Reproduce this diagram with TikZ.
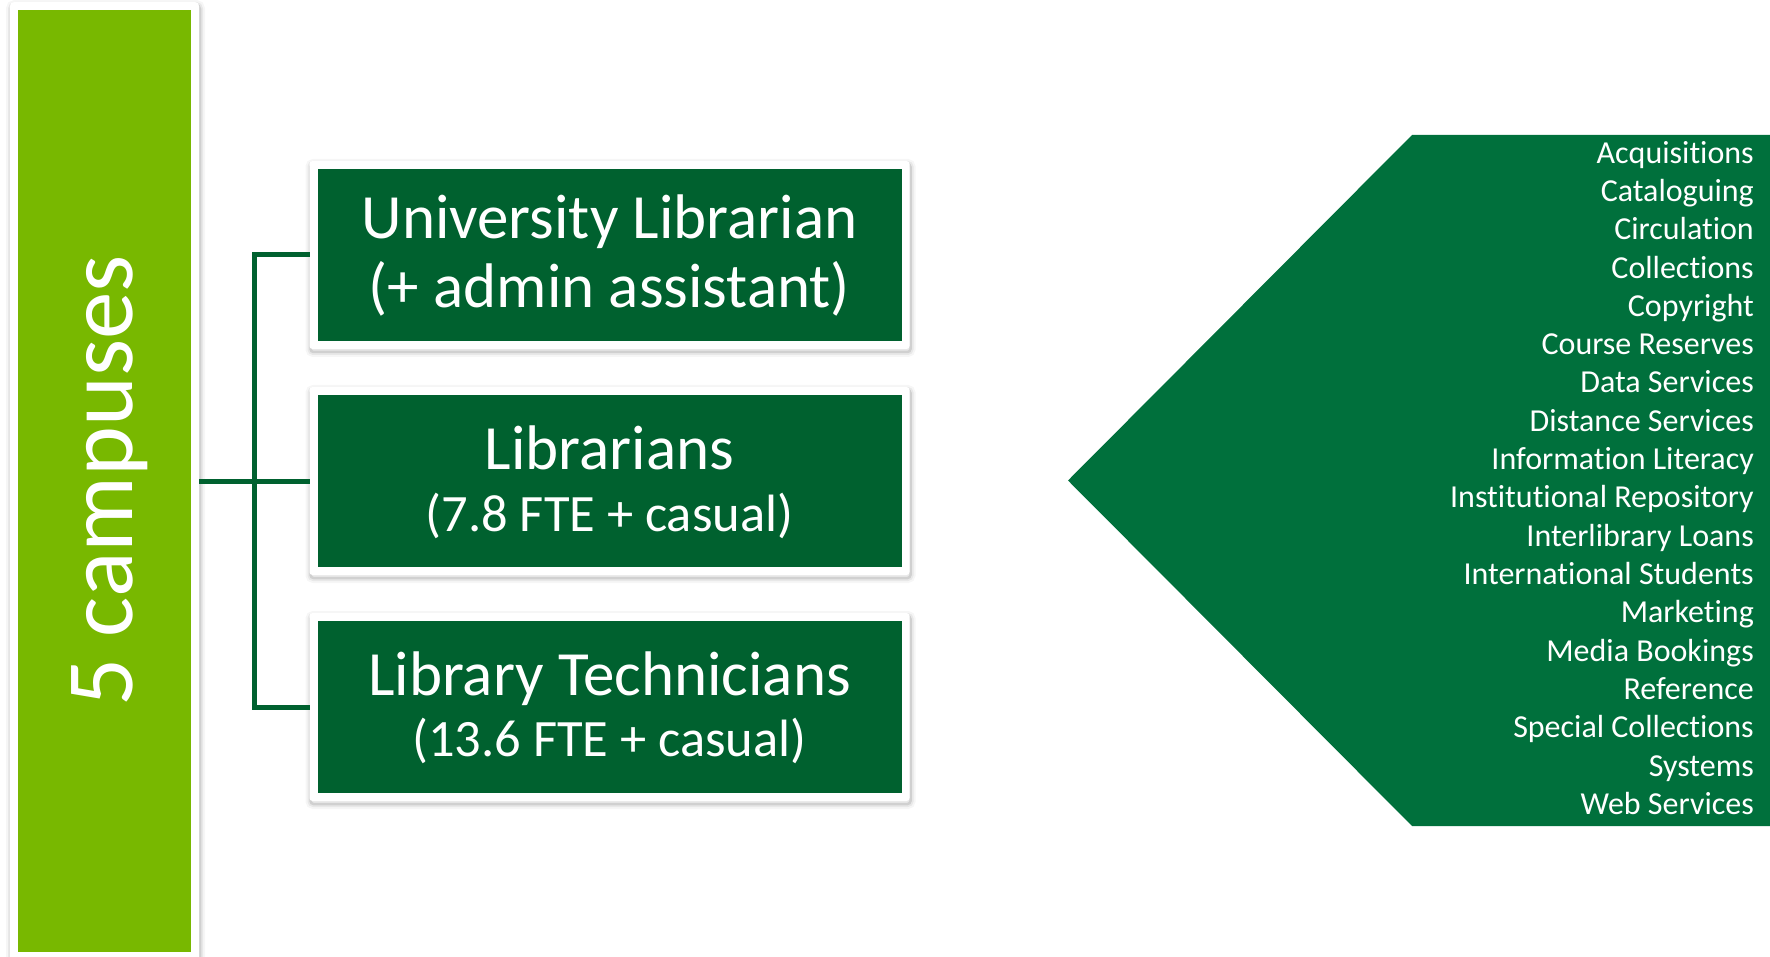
\documentclass[tikz,border=0pt]{standalone}
\usepackage{fontspec}
\setmainfont{Carlito}[Ligatures={NoCommon,NoContextual}]
\usetikzlibrary{calc}
\definecolor{limegreen}{HTML}{78B800}
\definecolor{boxgreen}{HTML}{00612F}
\definecolor{arrowgreen}{HTML}{00703C}
\begin{document}
\begin{tikzpicture}[x=1pt,y=-1pt,
  softshadow/.style={
    preaction={draw=black, draw opacity=0.035, line width=10pt, transform canvas={xshift=1pt,yshift=-3pt}},
    preaction={draw=black, draw opacity=0.06, line width=6pt, transform canvas={xshift=1pt,yshift=-3pt}},
    preaction={draw=black, draw opacity=0.10, line width=2.5pt, transform canvas={xshift=1pt,yshift=-3pt}}},
  frame/.style={fill=white, rounded corners=3pt, softshadow, inner sep=0pt, outer sep=0pt,
    minimum width=600pt, minimum height=188pt},
  greenbox/.style={fill=boxgreen, inner sep=0pt, outer sep=0pt,
    minimum width=584pt, minimum height=172pt},
  bigtxt/.style={text=white, inner sep=0pt, anchor=base, font=\fontsize{63}{63}\selectfont},
  smalltxt/.style={text=white, inner sep=0pt, anchor=base, font=\fontsize{52.5}{52.5}\selectfont},
  listtxt/.style={text=white, inner sep=0pt, anchor=base east, font=\fontsize{32}{32}\selectfont},
  conn/.style={draw=boxgreen, line width=5pt}]
\useasboundingbox (0,0) rectangle (1770,957);

% left bar
\node[fill=white, rounded corners=4pt, softshadow, inner sep=0pt, outer sep=0pt,
  minimum width=189pt, minimum height=962pt] (barframe) at (104.5,483) {};
\node[fill=limegreen, inner sep=0pt, outer sep=0pt, minimum width=173pt, minimum height=942pt] (bar) at (104.5,480.6) {};
\node[text=white, font=\fontsize{95}{95}\selectfont, rotate=90, anchor=base, inner sep=0pt] (camp) at (132,481) {5 campuses};

% boxes
\node[frame] (f1) at (609.5,255) {};
\node[greenbox] (b1) at (609.5,255) {};
\node[frame] (f2) at (609.5,481) {};
\node[greenbox] (b2) at (609.5,481) {};
\node[frame] (f3) at (609.5,707) {};
\node[greenbox] (b3) at (609.5,707) {};

\node[bigtxt] (t1a) at (609.5,239) {University Librarian};
\node[bigtxt] (t1b) at (609.5,308) {(+ admin assistant)};
\node[bigtxt] (t2a) at (609.5,469) {Librarians};
\node[smalltxt] (t2b) at (609.5,531) {(7.8 FTE + casual)};
\node[bigtxt] (t3a) at (609.5,695) {Library Technicians};
\node[smalltxt] (t3b) at (609.5,756) {(13.6 FTE + casual)};

% connectors
\coordinate (j) at (254,481);
\draw[conn] (f1.west) -| (j) |- (f3.west);
\draw[conn] (barframe.east |- j) -- (f2.west);

% arrow shape
\fill[arrowgreen] (1068,480.5) -- (1412,135) -- (1770,135) -- (1770,826) -- (1412,826) -- cycle;

\foreach \t [count=\i from 0] in {Acquisitions, Cataloguing, Circulation, Collections, Copyright,
  Course Reserves, Data Services, Distance Services, Information Literacy, Institutional Repository,
  Interlibrary Loans, International Students, Marketing, Media Bookings, Reference,
  Special Collections, Systems, Web Services}
  \node[listtxt] (s\i) at (1754,{163.2+38.3*\i}) {\t};
\end{tikzpicture}
\end{document}
